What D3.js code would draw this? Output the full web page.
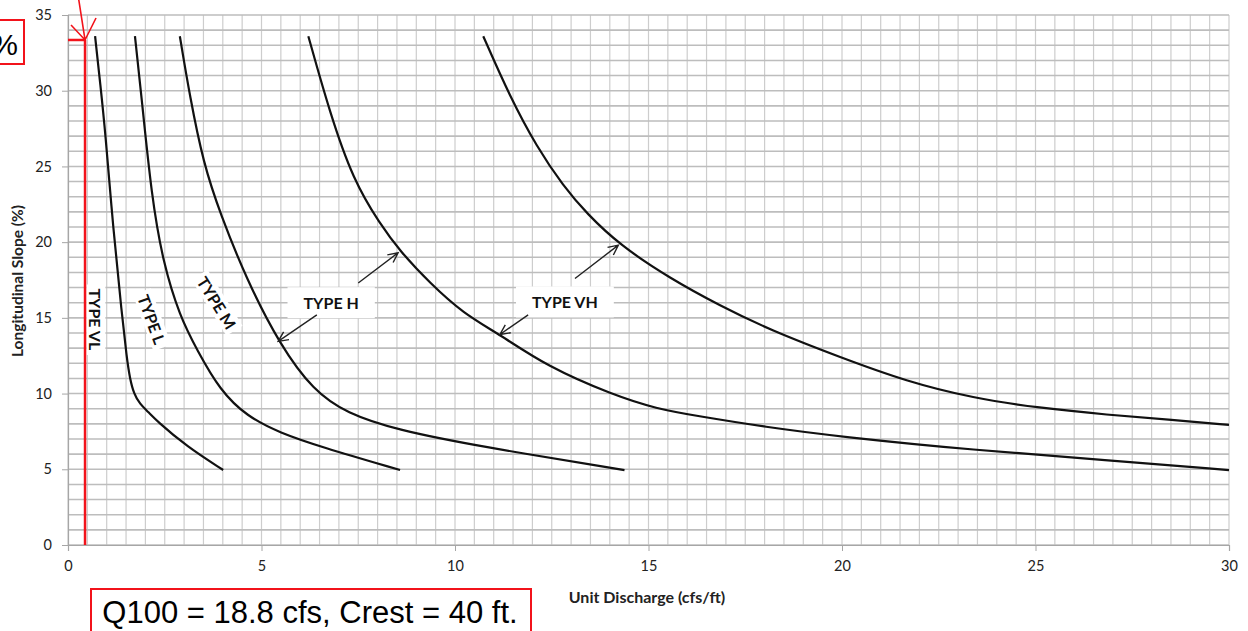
<!DOCTYPE html>
<html>
<head>
<meta charset="utf-8">
<script src="https://cdn.jsdelivr.net/npm/d3@7"></script>
<style>
  html, body { margin: 0; padding: 0; background: #fff; overflow: hidden; }
  svg { display: block; }
</style>
</head>
<body>
<svg id="chart" width="1248" height="631"></svg>
<script>
// curves: [unit discharge, slope %]
const typeVL = [[0.70, 33.6], [0.84, 30.3], [0.96, 27.4], [1.17, 20.8], [1.39, 15.3], [1.52, 12.3],
    [1.60, 11.0], [1.70, 10.0], [1.86, 9.3], [2.07, 8.8], [2.29, 8.2], [3.07, 6.5], [4.01, 4.95]];
const typeL = [[1.73, 33.6], [1.90, 29.6], [2.16, 23.0], [2.46, 18.6], [2.89, 15.1], [3.33, 12.9],
    [3.93, 10.2], [4.62, 8.5], [5.48, 7.4], [6.51, 6.5], [8.58, 4.95]];
const typeM = [[2.89, 33.6], [3.15, 29.6], [3.50, 25.2], [3.93, 21.9], [4.62, 17.5], [5.48, 13.2],
    [6.34, 10.2], [7.20, 8.7], [8.49, 7.6], [10.65, 6.5], [14.38, 4.95]];
const typeH = [[6.21, 33.6], [6.77, 28.5], [7.37, 24.1], [8.06, 21.2], [8.58, 19.4], [9.35, 17.3],
    [10.21, 15.3], [11.16, 13.9], [12.37, 11.8], [14.09, 9.9], [15.2, 9.0], [16.3, 8.5],
    [18.0, 7.8], [19.95, 7.15], [23.4, 6.27], [26.84, 5.6], [30, 4.95]];
const typeVH = [[10.73, 33.6], [11.42, 29.6], [12.11, 26.3], [12.80, 23.7], [13.40, 21.9], [14.26, 19.8],
    [15.56, 17.6], [16.85, 15.8], [18.14, 14.2], [19.95, 12.4], [21.67, 10.8], [23.39, 9.7],
    [25.1, 9.05], [26.84, 8.6], [28.56, 8.26], [30, 7.93]];

const xTicks = [0, 5, 10, 15, 20, 25, 30];
const yTicks = [0, 5, 10, 15, 20, 25, 30, 35];

// rotated curve names: [text, x, y, angle]
const curveLabels = [
    ["TYPE VL", 0.72, 14.9, 90],
    ["TYPE L", 2.17, 14.9, 70],
    ["TYPE M", 3.85, 16.0, 58]
];
// boxed names with two arrows each: [text, x, y]
const arrowLabels = [["TYPE H", 6.8, 16.0], ["TYPE VH", 12.84, 16.05]];
const arrows = [
    [[7.50, 17.3], [8.53, 19.3]],
    [[6.43, 15.2], [5.43, 13.45]],
    [[13.10, 17.6], [14.22, 19.8]],
    [[11.89, 15.2], [11.16, 13.9]]
];

// design point marked in red
const designQ = 0.44;
const designSlope = 33.35;
const noteText = "Q100 = 18.8 cfs, Crest = 40 ft.";

const svg = d3.select("#chart");
const x = d3.scaleLinear().domain([0, 30]).range([68, 1229]);
const y = d3.scaleLinear().domain([0, 35]).range([545, 15]);

// grid
svg.append("g")
    .selectAll("line")
    .data(d3.range(0, 30.01, 0.5))
    .join("line")
    .attr("x1", d => x(d)).attr("x2", d => x(d))
    .attr("y1", y(0)).attr("y2", y(35))
    .attr("stroke", "#cdcdcd")
    .attr("stroke-width", 1.2);
svg.append("g")
    .selectAll("line")
    .data(d3.range(0, 35.01, 1))
    .join("line")
    .attr("x1", x(0)).attr("x2", x(30))
    .attr("y1", d => y(d)).attr("y2", d => y(d))
    .attr("stroke", "#bdbdbd")
    .attr("stroke-width", 1.6);

// axes
const xAxis = svg.append("g")
    .attr("transform", `translate(0,${y(0)})`)
    .call(d3.axisBottom(x).tickValues(xTicks).tickSize(6).tickPadding(10));
const yAxis = svg.append("g")
    .attr("transform", `translate(${x(0)},0)`)
    .call(d3.axisLeft(y).tickValues(yTicks).tickSize(6).tickPadding(10));
[xAxis, yAxis].forEach(a => {
    a.select(".domain").attr("stroke", "#a6a6a6").attr("stroke-width", 1.2);
    a.selectAll(".tick line").attr("stroke", "#a6a6a6");
    a.selectAll(".tick text")
        .attr("font-family", "Lato, 'Open Sans', sans-serif")
        .attr("font-size", 14.5)
        .attr("fill", "#222");
});

svg.append("text")
    .attr("x", 647).attr("y", 603)
    .attr("text-anchor", "middle")
    .attr("font-family", "Lato, sans-serif")
    .attr("font-weight", "bold")
    .attr("font-size", 16)
    .attr("fill", "#222")
    .text("Unit Discharge (cfs/ft)");
svg.append("text")
    .attr("transform", `translate(23,${y(17.5) + 1}) rotate(-90)`)
    .attr("text-anchor", "middle")
    .attr("font-family", "Lato, sans-serif")
    .attr("font-weight", "bold")
    .attr("font-size", 15.5)
    .attr("fill", "#222")
    .text("Longitudinal Slope (%)");

// curves
const line = d3.line()
    .x(d => x(d[0]))
    .y(d => y(d[1]))
    .curve(d3.curveBasis);
svg.append("g")
    .selectAll("path")
    .data([typeVL, typeL, typeM, typeH, typeVH])
    .join("path")
    .attr("d", line)
    .attr("fill", "none")
    .attr("stroke", "#111")
    .attr("stroke-width", 2.2);

// label boxes
function boxedLabel(g, padX, padY) {
    const t = g.select("text").node().getBBox();
    g.insert("rect", "text")
        .attr("x", t.x - padX).attr("y", t.y - padY)
        .attr("width", t.width + 2 * padX).attr("height", t.height + 2 * padY)
        .attr("fill", "#fff");
}

curveLabels.forEach(([txt, cx, cy, ang]) => {
    const g = svg.append("g")
        .attr("transform", `translate(${x(cx)},${y(cy)}) rotate(${ang})`);
    g.append("text")
        .attr("text-anchor", "middle")
        .attr("dominant-baseline", "central")
        .attr("font-family", "Lato, sans-serif")
        .attr("font-weight", "bold")
        .attr("font-size", 16)
        .attr("fill", "#111")
        .text(txt);
    boxedLabel(g, 4, 0);
});

arrowLabels.forEach(([txt, cx, cy]) => {
    const g = svg.append("g")
        .attr("transform", `translate(${x(cx)},${y(cy)})`);
    g.append("text")
        .attr("text-anchor", "middle")
        .attr("dominant-baseline", "central")
        .attr("font-family", "Lato, sans-serif")
        .attr("font-weight", "bold")
        .attr("font-size", 16)
        .attr("fill", "#111")
        .text(txt);
    boxedLabel(g, 16, 6);
});

// arrows with open heads
const arrowG = svg.append("g")
    .attr("stroke", "#222")
    .attr("stroke-width", 1.4)
    .attr("fill", "none");
arrows.forEach(([p0, p1]) => {
    const x0 = x(p0[0]), y0 = y(p0[1]), x1 = x(p1[0]), y1 = y(p1[1]);
    const a = Math.atan2(y1 - y0, x1 - x0);
    const h = 11, s = 0.45;
    arrowG.append("path")
        .attr("d", `M${x0},${y0}L${x1},${y1}` +
            `M${x1 - h * Math.cos(a - s)},${y1 - h * Math.sin(a - s)}L${x1},${y1}` +
            `L${x1 - h * Math.cos(a + s)},${y1 - h * Math.sin(a + s)}`);
});

// red design annotation
const red = "#f2131b";
const rx = x(designQ), ry = y(designSlope);
svg.append("line")
    .attr("x1", rx).attr("x2", rx)
    .attr("y1", ry).attr("y2", y(0))
    .attr("stroke", red).attr("stroke-width", 2.5);
svg.append("line")
    .attr("x1", x(0)).attr("x2", rx)
    .attr("y1", ry).attr("y2", ry)
    .attr("stroke", red).attr("stroke-width", 2.5);
svg.append("path")
    .attr("d", `M${rx - 7},${ry - 45}L${rx},${ry}M${rx - 14},${ry - 15}L${rx},${ry}L${rx + 11},${ry - 22}`)
    .attr("fill", "none")
    .attr("stroke", red)
    .attr("stroke-width", 1.6);

svg.append("rect")
    .attr("x", -2).attr("y", 20)
    .attr("width", 26).attr("height", 44)
    .attr("fill", "#fff")
    .attr("stroke", red).attr("stroke-width", 2);
svg.append("text")
    .attr("x", 18).attr("y", 55)
    .attr("text-anchor", "end")
    .attr("font-family", "'Liberation Sans', Arial, sans-serif")
    .attr("font-size", 30)
    .attr("fill", "#000")
    .text("%");

svg.append("rect")
    .attr("x", 91).attr("y", 589)
    .attr("width", 440).attr("height", 60)
    .attr("fill", "#fff")
    .attr("stroke", red).attr("stroke-width", 2);
svg.append("text")
    .attr("x", 310).attr("y", 623)
    .attr("text-anchor", "middle")
    .attr("font-family", "'Liberation Sans', Arial, sans-serif")
    .attr("font-size", 31)
    .attr("fill", "#000")
    .text(noteText);
</script>
</body>
</html>
